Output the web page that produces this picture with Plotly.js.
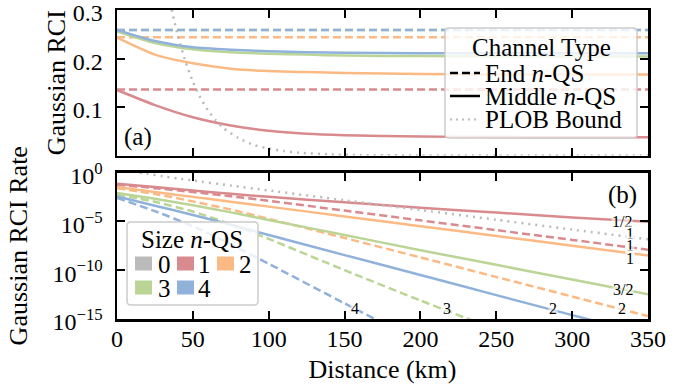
<!DOCTYPE html>
<html>
<head>
<meta charset="utf-8">
<script src="https://cdn.plot.ly/plotly-3.0.1.min.js"></script>
<style>
  html, body { margin: 0; padding: 0; background: #ffffff; }
  #chart { width: 693px; height: 392px; }
</style>
</head>
<body>
<div id="chart"></div>
<script>
// ---------------- data ----------------
// (a) Gaussian RCI per channel type, vs distance (km)
const distRci = [0, 25, 50, 75, 100, 125, 150, 200, 250, 300, 350];
const rciMiddle1 = [0.135, 0.104, 0.079, 0.062, 0.051, 0.045, 0.042, 0.039, 0.038, 0.0375, 0.0375];
const rciMiddle2 = [0.243, 0.208, 0.190, 0.179, 0.174, 0.172, 0.170, 0.168, 0.167, 0.167, 0.167];
const rciMiddle3 = [0.256, 0.232, 0.219, 0.213, 0.210, 0.208, 0.206, 0.205, 0.204, 0.204, 0.204];
const rciMiddle4 = [0.259, 0.236, 0.223, 0.218, 0.215, 0.213, 0.212, 0.211, 0.211, 0.211, 0.211];

const distEnd = [0, 350];
const rciEnd1 = [0.136, 0.136];
const rciEnd2 = [0.244, 0.244];
const rciEnd3 = [0.259, 0.259];
const rciEnd4 = [0.259, 0.259];

const distPlobRci = [35, 40, 45, 50, 55, 60, 65, 70, 80, 90, 100, 110, 120, 140, 160, 200, 250, 300, 350];
const plobRci = [0.315, 0.248, 0.195, 0.152, 0.119, 0.093, 0.073, 0.057, 0.036, 0.022, 0.0145,
                 0.0091, 0.0058, 0.0023, 0.0009, 0.00014, 0.00001, 0, 0];

// (b) Gaussian RCI rate vs distance (km)
const distRate = [0, 25, 50, 75, 100, 150, 200, 250, 300, 350];
const rateMiddle1 = [7.1e-2, 3.2e-2, 1.4e-2, 6.6e-3, 3.2e-3, 8.9e-4, 2.5e-4, 7.9e-5, 2.5e-5, 8.9e-6];
const rateEnd1    = [5.6e-2, 2.5e-2, 1.0e-2, 3.7e-3, 1.26e-3, 1.26e-4, 1.26e-5, 1.26e-6, 1.26e-7, 1.26e-8];
const rateMiddle2 = [3.2e-2, 1.0e-2, 3.2e-3, 1.0e-3, 3.2e-4, 3.2e-5, 3.2e-6, 3.2e-7, 3.2e-8, 3.2e-9];
const rateEnd2    = [2.5e-2, 6.3e-3, 1.1e-3, 1.6e-4, 1.8e-5, 2.0e-7, 2.0e-9, 2.0e-11, 2.0e-13, 2.0e-15];
const rateMiddle3 = [7.9e-3, 2.0e-3, 4.5e-4, 8.3e-5, 1.4e-5, 4.0e-7, 1.1e-8, 3.5e-10, 1.1e-11, 3.5e-13];
const rateEnd3    = [5.6e-3, 1.0e-3, 1.0e-4, 5.0e-6, 1.6e-7, 1.0e-10, 7.9e-14, 7.9e-17, 7.9e-20, 7.9e-23];
const rateMiddle4 = [3.5e-3, 4.0e-4, 4.5e-5, 4.5e-6, 4.0e-7, 3.5e-9, 3.2e-11, 2.8e-13, 2.5e-15, 2.5e-17];
const rateEnd4    = [2.5e-3, 1.1e-4, 3.2e-6, 4.5e-8, 4.5e-10, 4.0e-14, 4.0e-18, 4.0e-22, 4.0e-26, 4.0e-30];

const distPlobRate = [15, 20, 30, 40, 50, 75, 100, 150, 200, 250, 300, 350];
const plobRate = [1.0, 0.73, 0.42, 0.25, 0.152, 0.046, 0.0145, 1.44e-3, 1.44e-4, 1.44e-5, 1.44e-6, 1.44e-7];

// axis ticks
const distTicks = [0, 50, 100, 150, 200, 250, 300, 350];
const rciTicks = [0.1, 0.2, 0.3];
const rateTickExps = [0, -5, -10, -15];

// legend / annotation texts
const sizeLabels = ['0', '1', '2', '3', '4'];
const channelLabels = ['End <i>n</i>-QS', 'Middle <i>n</i>-QS', 'PLOB Bound'];
const slopeLabels = ['1/2', '1', '1', '1', '3/2', '2', '2', '3', '4'];

// ---------------- styles ----------------
const sizeColors = ['#bbbbbb', '#d98a8e', '#fbba84', '#bbd596', '#90b2da'];
const FONT = '"Liberation Serif", "DejaVu Serif", serif';
const LW = 2.5;
const DASH = '8px,4px';
const DOT = '2px,5px';

const W = 693, H = 392;
const M = { l: 117, r: 45, t: 10, b: 73 };
const plotW = W - M.l - M.r;
const plotH = H - M.t - M.b;
const X = (p) => (p - M.l) / plotW;          // pixel x -> paper
const Y = (p) => (H - M.b - p) / plotH;      // pixel y -> paper

function line(x, y, color, dash, xa, ya) {
  return {
    x: x, y: y, type: 'scatter', mode: 'lines', xaxis: xa, yaxis: ya,
    line: { color: color, width: LW, dash: dash, shape: 'spline', smoothing: 0.6 },
    showlegend: false, hoverinfo: 'skip'
  };
}

const traces = [
  // panel (a)
  line(distRci, rciMiddle1, sizeColors[1], 'solid', 'x2', 'y2'),
  line(distEnd, rciEnd1, sizeColors[1], DASH, 'x2', 'y2'),
  line(distRci, rciMiddle2, sizeColors[2], 'solid', 'x2', 'y2'),
  line(distEnd, rciEnd2, sizeColors[2], DASH, 'x2', 'y2'),
  line(distRci, rciMiddle3, sizeColors[3], 'solid', 'x2', 'y2'),
  line(distEnd, rciEnd3, sizeColors[3], DASH, 'x2', 'y2'),
  line(distRci, rciMiddle4, sizeColors[4], 'solid', 'x2', 'y2'),
  line(distEnd, rciEnd4, sizeColors[4], DASH, 'x2', 'y2'),
  line(distPlobRci, plobRci, sizeColors[0], DOT, 'x2', 'y2'),
  // panel (b)
  line(distRate, rateMiddle1, sizeColors[1], 'solid', 'x', 'y'),
  line(distRate, rateEnd1, sizeColors[1], DASH, 'x', 'y'),
  line(distRate, rateMiddle2, sizeColors[2], 'solid', 'x', 'y'),
  line(distRate, rateEnd2, sizeColors[2], DASH, 'x', 'y'),
  line(distRate, rateMiddle3, sizeColors[3], 'solid', 'x', 'y'),
  line(distRate, rateEnd3, sizeColors[3], DASH, 'x', 'y'),
  line(distRate, rateMiddle4, sizeColors[4], 'solid', 'x', 'y'),
  line(distRate, rateEnd4, sizeColors[4], DASH, 'x', 'y'),
  line(distPlobRate, plobRate, sizeColors[0], DOT, 'x', 'y')
];

const axisCommon = {
  showline: true, linecolor: '#000000', linewidth: 2.5, mirror: 'allticks',
  ticks: 'inside', ticklen: 8, tickwidth: 2, tickcolor: '#000000',
  showgrid: false, zeroline: false, ticklabeloverflow: 'allow',
  tickfont: { family: FONT, size: 24, color: '#000000' }
};

const layout = {
  width: W, height: H,
  margin: M,
  paper_bgcolor: '#ffffff', plot_bgcolor: '#ffffff',
  font: { family: FONT, color: '#000000' },
  showlegend: false,
  xaxis: Object.assign({}, axisCommon, {
    anchor: 'y', range: [0, 350], tickmode: 'array',
    tickvals: distTicks, ticktext: distTicks.map(String),
    ticklabelstandoff: -3,
    title: { text: 'Distance (km)', font: { family: FONT, size: 26 }, standoff: 9 }
  }),
  yaxis: Object.assign({}, axisCommon, {
    domain: [0, Y(172.5)], type: 'log', range: [-15, 0], tickmode: 'array',
    tickvals: rateTickExps.map(e => Math.pow(10, e)),
    ticktext: rateTickExps.map(e => '10<sup>' + (e < 0 ? '\u2212' + (-e) : e) + '</sup>'),
    ticklabelstandoff: 7, ticklabelshift: 3,
    title: { text: 'Gaussian RCI Rate', font: { family: FONT, size: 26 }, standoff: 18 }
  }),
  xaxis2: Object.assign({}, axisCommon, {
    anchor: 'y2', range: [0, 350], matches: 'x', tickmode: 'array',
    tickvals: distTicks, showticklabels: false
  }),
  yaxis2: Object.assign({}, axisCommon, {
    domain: [Y(155.5), 1], range: [0, 0.3 + 1e-9], tickmode: 'array',
    tickvals: rciTicks, ticktext: rciTicks.map(v => v.toFixed(1)),
    ticklabelstandoff: 7, ticklabelshift: 3,
    title: { text: 'Gaussian RCI', font: { family: FONT, size: 26 }, standoff: 0 }
  }),
  shapes: [],
  annotations: []
};

// rounded legend frame in pixel units, converted to paper units
function frame(x0, y0, x1, y1, r) {
  const P = (x, y) => X(x) + ',' + Y(y);
  const d = 'M' + P(x0 + r, y0) + ' L' + P(x1 - r, y0) + ' Q' + P(x1, y0) + ' ' + P(x1, y0 + r) +
            ' L' + P(x1, y1 - r) + ' Q' + P(x1, y1) + ' ' + P(x1 - r, y1) +
            ' L' + P(x0 + r, y1) + ' Q' + P(x0, y1) + ' ' + P(x0, y1 - r) +
            ' L' + P(x0, y0 + r) + ' Q' + P(x0, y0) + ' ' + P(x0 + r, y0) + ' Z';
  return { type: 'path', xref: 'paper', yref: 'paper', path: d, layer: 'above',
           fillcolor: 'rgba(255,255,255,0.8)', line: { color: '#cccccc', width: 1.5 } };
}
function text(t, x, y, size, xanchor, extra) {
  return Object.assign({ text: t, xref: 'paper', yref: 'paper', x: X(x), y: Y(y),
    xanchor: xanchor, yanchor: 'middle', showarrow: false,
    font: { family: FONT, size: size, color: '#000000' } }, extra || {});
}

// Channel-type legend
layout.shapes.push(frame(445, 28, 637, 138, 4));
layout.annotations.push(text('Channel Type', 541, 47, 25, 'center'));
const chanRows = [73, 96, 119.5];
const chanStyle = [['#000000', 'dash'], ['#000000', 'solid'], [sizeColors[0], 'dot']];
chanRows.forEach((yy, i) => {
  layout.shapes.push({ type: 'line', xref: 'paper', yref: 'paper', layer: 'above',
    x0: X(450), x1: X(480), y0: Y(yy), y1: Y(yy),
    line: { color: chanStyle[i][0], width: i === 2 ? 2 : 2.5,
            dash: i === 0 ? '8px,4px' : (i === 2 ? '2px,4px' : 'solid') } });
  layout.annotations.push(text(channelLabels[i], 483, yy, 25, 'left'));
});

// Size legend
layout.shapes.push(frame(127, 222, 258, 305, 4));
layout.annotations.push(text('Size <i>n</i>-QS', 191.5, 239, 25, 'center'));
const sizeCells = [[135, 263.5, 156], [177, 263.5, 196], [217, 263.5, 237], [135, 287.5, 156], [177, 287.5, 196]];
sizeLabels.forEach((lab, i) => {
  const c = sizeCells[i];
  layout.shapes.push({ type: 'rect', xref: 'paper', yref: 'paper', layer: 'above',
    x0: X(c[0]), x1: X(c[0] + 17), y0: Y(c[1] - 7), y1: Y(c[1] + 7),
    fillcolor: sizeColors[i], line: { width: 0 } });
  layout.annotations.push(text(lab, c[2], c[1] + 1, 25, 'left'));
});

// panel tags
layout.annotations.push(text('(a)', 122, 137, 25, 'left'));
layout.annotations.push(text('(b)', 639, 195, 25, 'right'));

// scaling exponents at the line ends
const slopePos = [[622, 221], [630, 233], [630, 245.5], [630, 258], [623, 289], [622, 308], [553, 308], [447, 308], [355, 308]];
slopeLabels.forEach((lab, i) => {
  layout.annotations.push(text(lab, slopePos[i][0], slopePos[i][1], 16, 'center',
    { bgcolor: 'rgba(255,255,255,0.6)', borderpad: 0 }));
});

Plotly.newPlot('chart', traces, layout, { displayModeBar: false, staticPlot: true });
</script>
</body>
</html>
